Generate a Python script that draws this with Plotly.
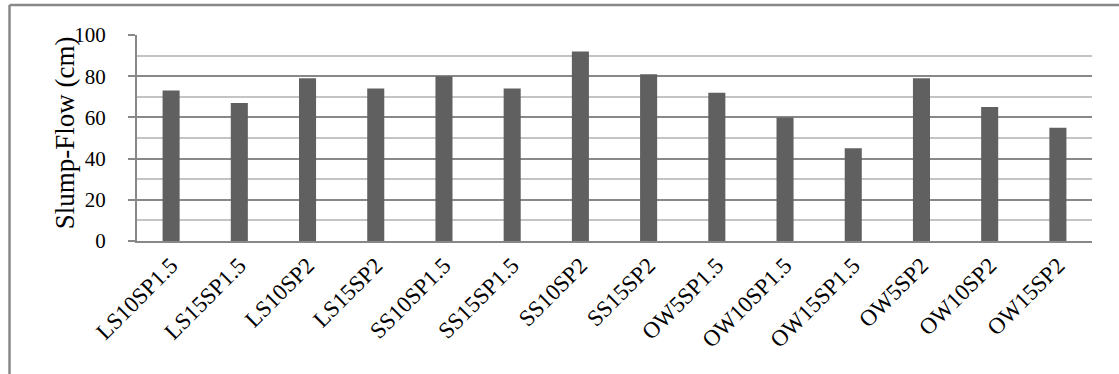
import plotly.graph_objects as go

# Slump-flow results per mix
mixes = ["LS10SP1.5", "LS15SP1.5", "LS10SP2", "LS15SP2",
         "SS10SP1.5", "SS15SP1.5", "SS10SP2", "SS15SP2",
         "OW5SP1.5", "OW10SP1.5", "OW15SP1.5", "OW5SP2", "OW10SP2", "OW15SP2"]
slump_flow = [73, 67, 79, 74, 80, 74, 92, 81, 72, 60, 45, 79, 65, 55]

y_ticks = [0, 20, 40, 60, 80, 100]
y_title = "Slump-Flow (cm)"

FONT = "Liberation Serif, Times New Roman, serif"
GRID_MAJOR = "#888888"
GRID_MINOR = "#c4c4c4"

fig = go.Figure(
    go.Bar(
        x=mixes,
        y=slump_flow,
        marker=dict(color="#606060", line=dict(width=0)),
        width=0.25,
        hoverinfo="x+y",
    )
)

fig.update_layout(
    width=1119,
    height=374,
    margin=dict(l=137, r=27, t=35, b=133),
    paper_bgcolor="white",
    plot_bgcolor="white",
    showlegend=False,
    font=dict(family=FONT, size=21, color="black"),
    xaxis=dict(
        type="category",
        tickangle=-45,
        showgrid=False,
        showline=True,
        linecolor=GRID_MAJOR,
        linewidth=2,
        ticks="",
        tickfont=dict(size=23),
    ),
    yaxis=dict(
        range=[0, 100],
        tickvals=y_ticks,
        ticktext=[str(v) for v in y_ticks],
        showgrid=True,
        gridcolor=GRID_MAJOR,
        gridwidth=2,
        showline=True,
        linecolor=GRID_MAJOR,
        linewidth=2,
        ticks="outside",
        ticklen=7,
        tickwidth=2,
        tickcolor=GRID_MAJOR,
        tickfont=dict(size=21),
        ticklabelstandoff=18,
        zeroline=False,
        minor=dict(dtick=10, showgrid=True, gridcolor=GRID_MINOR, gridwidth=2, ticks=""),
    ),
    annotations=[
        dict(text=y_title, textangle=-90, showarrow=False,
             xref="paper", yref="paper", x=-0.0745, y=0.527,
             xanchor="center", yanchor="middle",
             font=dict(size=27, family=FONT, color="black")),
    ],
    shapes=[
        # chart frame (left and top edges)
        dict(type="line", xref="paper", yref="paper",
             x0=-0.1335, x1=-0.1335, y0=1.1456, y1=-0.66,
             line=dict(color="#888888", width=2.5)),
        dict(type="line", xref="paper", yref="paper",
             x0=-0.1335, x1=1.03, y0=1.1456, y1=1.1456,
             line=dict(color="#888888", width=2.5)),
    ],
)

fig.write_html("out.html")
